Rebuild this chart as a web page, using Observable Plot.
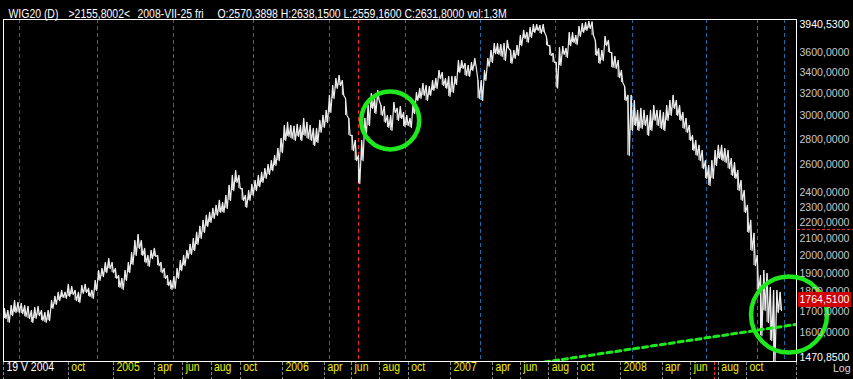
<!DOCTYPE html>
<html><head><meta charset="utf-8">
<script src="https://cdn.jsdelivr.net/npm/d3@7"></script>
<script src="https://cdn.jsdelivr.net/npm/@observablehq/plot@0.6"></script>
<style>
html,body{margin:0;padding:0;background:#000;}
svg{display:block;}
</style></head><body><div id="chart"></div>
<script>
// ---- data (WIG20, weekly high/low) ----
const weekStart = "2004-05-21";
const weeklyHigh = [
1715,1705,1730,1755,1745,1740,1730,1725,1705,1720,1725,1705,1695,1705,1755,1776,1797,1807,1797,1839,1828,1807,1797,1833,1839,1818,1807,1860,1914,1925,1959,1982,1959,
1925,1887,1871,1914,1959,2017,2088,2125,2088,2041,2000,2029,2041,2000,1959,1925,1887,1860,1881,1925,1971,2000,2029,2065,2101,2138,2176,2214,2247,2266,2292,2312,2346,2332,2380,2450,2522,2558,2522,2428,2380,2414,2457,2485,2522,2544,2573,2603,2633,2672,2727,2807,
2915,2941,2915,2907,2924,2915,2975,2941,2915,2890,2890,2958,3001,3045,3181,3273,3340,3369,3321,3152,2975,2832,2791,2672,2791,2975,3089,3198,3152,3226,3089,3080,3001,3001,3116,3063,3080,3027,3001,2975,3134,3207,3245,3292,3273,3264,3321,3340,3419,3399,3340,3360,
3360,3360,3519,3519,3489,3469,3499,3540,3321,3321,3419,3540,3623,3697,3697,3686,3697,3730,3623,3623,3675,3784,3840,3817,3872,3906,3906,3895,3906,3773,3675,3591,3499,3654,3664,3644,3817,3817,3784,3884,3917,3929,3940.53,3935,3730,3644,3623,3773,3730,3602,3560,3519,
3419,3264,3181,3181,3134,3045,3063,3045,3001,3045,3089,3045,3045,3027,3089,3134,3181,3134,3089,3027,2975,2915,2832,2791,2752,2711,2633,2596,2633,2711,2752,2752,2727,2711,2649,2618,2558,2485,2414,2312,
2214,2132,2000,1887,1914,1898,1823,1807,1807,1797
];
const weeklyLow = [
1666,1647,1680,1695,1695,1690,1675,1666,1647,1666,1680,1656,1647,1656,1715,1735,1755,1771,1766,1776,1786,1755,1745,1792,1797,1776,1766,1807,1860,1881,1903,1925,1903,
1871,1823,1813,1860,1903,1948,2000,2041,2000,1959,1937,1982,1994,1942,1903,1871,1833,1813,1818,1871,1914,1942,1982,2006,2029,2065,2101,2138,2176,2201,2227,2247,2266,2266,2292,2346,2414,2471,2428,2346,2299,2346,2380,2414,2442,2471,2500,2529,2558,2596,2633,2695,
2791,2824,2807,2791,2824,2791,2832,2807,2791,2752,2775,2857,2898,2941,3027,3152,3245,3273,3181,3001,2832,2711,2633,2464,2633,2832,2915,3063,3019,3134,3001,2941,2898,2873,3027,2958,2975,2907,2915,2898,3019,3134,3152,3181,3134,3181,3226,3245,3340,3273,3245,3171,
3207,3283,3399,3439,3369,3360,3419,3459,3152,3134,3321,3459,3499,3591,3581,3560,3519,3644,3489,3540,3571,3675,3751,3708,3762,3817,3840,3806,3817,3675,3571,3499,3249,3469,3581,3550,3675,3708,3686,3773,3817,3840,3861,3784,3571,3489,3519,3675,3602,3449,3439,3349,
3302,3134,2672,2873,2915,2873,2890,2915,2832,2873,2958,2915,2890,2873,2958,3001,3063,3001,2958,2890,2857,2791,2711,2672,2633,2572,2500,2450,2500,2596,2649,2633,2618,2572,2522,2500,2414,2346,2266,2138,
2029,1942,1807,1585,1705,1647,1563,1470.85,1695,1705
];
const lastClose = 1764.51;
const cursorPrice = 2155.8002;
const cursorDate = "2008-07-24";

// vertical marker lines
const blueLineDates = ["2004-06-21","2004-12-01","2005-05-13","2005-11-01","2006-04-14","2006-09-26","2007-03-07","2007-08-15","2008-01-28","2008-07-06","2008-12-22"];
const redLineDates = ["2006-06-16","2008-10-25"];

// trend line (green dotted) and highlight circles
const trendDates = ["2007-06-15","2009-01-16"];
const trendValues = [1457, 1638];
const circleDates = ["2006-08-24","2008-12-31"];
const circleValues = [2958, 1685];
const circleRadii = [29, 38];

// axes
const xTickDates = ["2004-05-19","2004-10-01","2005-01-03","2005-04-01","2005-06-01","2005-08-01","2005-10-03","2006-01-02","2006-04-03","2006-06-01","2006-08-01","2006-10-02","2007-01-02","2007-04-02","2007-06-01","2007-08-01","2007-10-01","2008-01-02","2008-04-01","2008-06-02","2008-08-01","2008-10-01"];
const xTickLabels = ["19 V 2004","oct","2005","apr","jun","aug","oct","2006","apr","jun","aug","oct","2007","apr","jun","aug","oct","2008","apr","jun","aug","oct"];
const yTickValues = [3600,3400,3200,3000,2800,2600,2400,2300,2200,2100,2000,1900,1800,1700,1600];
const yMax = 3940.53, yMin = 1470.85;
const titleParts = ["WIG20 (D)", ">2155,8002<", "2008-VII-25 fri", "O:2570,3898 H:2638,1500 L:2559,1600 C:2631,8000 vol:1,3M"];
const titleOffsets = [5, 65, 134, 214];

// x scale knots (trading-day axis is slightly non-uniform in calendar time)
const xKnotDates = ["2004-05-19","2005-01-03","2006-01-02","2007-01-02","2008-01-02","2008-10-01","2009-01-16"];
const xKnotRange = [3, 113, 282, 450, 620, 746, 796];

// ---- build ----
const P = d => new Date(d + "T00:00:00Z");
const start = P(weekStart);
const bars = weeklyHigh.map((h, i) => ({date: d3.utcDay.offset(start, 7 * i), high: h, low: weeklyLow[i]}));
// draw each week as a high -> low stroke, like a run of daily bars
const path = bars.flatMap(b => [{date: b.date, v: b.high}, {date: d3.utcDay.offset(b.date, 3), v: b.low}]);
const trend = trendDates.map((d, i) => ({date: P(d), value: trendValues[i]}));
const circles = circleDates.map((d, i) => ({date: P(d), value: circleValues[i], r: circleRadii[i]}));
const xEnd = P(xKnotDates[xKnotDates.length - 1]);
const fmt = v => d3.format(".4f")(v).replace(".", ",");

const FONT = "'Liberation Sans',Arial,sans-serif";
const W = 853, H = 379, MT = 19, MB = 18, ML = 3, MR = 57;
const GREEN = "#1fe81f";
const YELLOW = "#eeee00";
const RFS = 11; // right-axis font size

const plot = Plot.plot({
  width: W, height: H,
  marginTop: MT, marginBottom: MB, marginLeft: ML, marginRight: MR,
  style: {background: "#000", color: "#fff", fontFamily: FONT, fontSize: "12px", overflow: "visible"},
  x: {type: "utc", domain: xKnotDates.map(P), range: xKnotRange, axis: null},
  y: {type: "log", domain: [yMin, yMax], range: [H - MB, MT + 2], axis: null},
  marks: [
    Plot.ruleX(blueLineDates.map(P), {stroke: "#1a6aa8", strokeWidth: 1, strokeDasharray: "4,3", shapeRendering: "crispEdges"}),
    Plot.ruleX(redLineDates.map(P), {stroke: "#ff2020", strokeWidth: 1, strokeDasharray: "4,3", shapeRendering: "crispEdges"}),
    Plot.ruleX(bars, {x: "date", y1: "low", y2: "high", stroke: "#ececec", strokeWidth: 1}),
    Plot.line(path, {x: "date", y: "v", stroke: "#ececec", strokeWidth: 1.2, curve: "linear"}),
    Plot.line(trend, {x: "date", y: "value", stroke: GREEN, strokeWidth: 3, strokeDasharray: "5,4", clip: true}),
    Plot.frame({stroke: "#fff", strokeWidth: 1, shapeRendering: "crispEdges"}),
    ...circles.map(c => Plot.dot([c], {x: "date", y: "value", r: c.r, stroke: GREEN, strokeWidth: 4.5, fill: "none"})),
    // right axis labels
    Plot.text(yTickValues, {x: () => xEnd, y: d => d, text: fmt, dx: 3, textAnchor: "start", fill: "#c8c8c8", fontSize: RFS, className: "rl"}),
    Plot.text([yMax], {x: () => xEnd, y: d => d, text: fmt, dx: 3, dy: 3, textAnchor: "start", fill: "#fff", fontSize: RFS, className: "rl"}),
    Plot.text([yMin], {x: () => xEnd, y: d => d, text: fmt, dx: 3, dy: -4, textAnchor: "start", fill: "#fff", fontSize: RFS, className: "rl"}),
    Plot.text([lastClose], {x: () => xEnd, y: d => d, text: fmt, dx: 3, dy: 1, textAnchor: "start", fill: "#fff", fontSize: RFS, className: "rl last"}),
    Plot.text(["Log"], {frameAnchor: "bottom-right", dx: 54, dy: 10, textAnchor: "end", fill: "#d8d8d8", fontSize: RFS, className: "rl"}),
    // bottom axis labels
    Plot.text(xTickDates.map(P), {x: d => d, text: (d, i) => xTickLabels[i], frameAnchor: "bottom", dx: 3, dy: 9, textAnchor: "start",
      fill: (d, i) => i === 0 ? "#ffffff" : YELLOW, className: "lbl"}),
    // title
    ...titleParts.map((t, i) => Plot.text([t], {text: d => d, frameAnchor: "top-left", dx: titleOffsets[i], dy: -10, textAnchor: "start", fill: "#fff", className: "lbl"}))
  ]
});

document.getElementById("chart").appendChild(plot);

// decorations that live in the margins, positioned with the plot's own scales
const svg = d3.select(plot);
const xs = plot.scale("x"), ys = plot.scale("y");
const axisG = svg.append("g").attr("shape-rendering", "crispEdges");
for (const d of [...xTickDates.map(P), xEnd]) {
  const xx = Math.round(xs.apply(d)) + 0.5;
  axisG.append("line").attr("x1", xx).attr("x2", xx).attr("y1", H - MB + 1).attr("y2", H)
    .attr("stroke", "#8a8a8a").attr("stroke-dasharray", "3,2");
}
const cx = Math.round(xs.apply(P(cursorDate))) + 0.5;
axisG.append("line").attr("x1", cx).attr("x2", cx).attr("y1", H - MB + 1).attr("y2", H)
  .attr("stroke", "#ff2020").attr("stroke-dasharray", "3,2");
const cy = Math.round(ys.apply(cursorPrice)) + 0.5;
axisG.append("line").attr("x1", W - MR + 1).attr("x2", W).attr("y1", cy).attr("y2", cy)
  .attr("stroke", "#ff2020").attr("stroke-width", 1).attr("stroke-dasharray", "3,2");
// red price tag for the last close, drawn over the neighbouring tick labels
const ly = ys.apply(lastClose);
axisG.append("rect").attr("x", W - MR + 2).attr("y", Math.round(ly - 6)).attr("width", MR - 4).attr("height", 15).attr("fill", "#d00000");
svg.select("g.last").raise();

// narrow the UI-style font (the terminal uses a condensed bitmap face)
svg.selectAll("g.lbl text").each(function() {
  const len = this.getComputedTextLength();
  this.setAttribute("textLength", (len * 0.87).toFixed(1));
  this.setAttribute("lengthAdjust", "spacingAndGlyphs");
});
svg.selectAll("g.rl text").each(function() {
  const len = this.getComputedTextLength();
  this.setAttribute("textLength", (len * 0.96).toFixed(1));
  this.setAttribute("lengthAdjust", "spacingAndGlyphs");
});
</script>
</body></html>
